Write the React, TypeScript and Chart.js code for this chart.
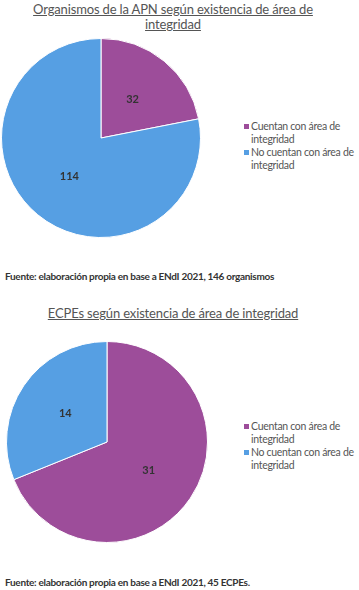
import React, { useEffect, useRef } from "react";
import { Chart, registerables } from "chart.js";

Chart.register(...registerables);

const categories = ["Cuentan con área de integridad", "No cuentan con área de integridad"];
const legendLines = [["Cuentan con área de", "integridad"], ["No cuentan con área de", "integridad"]];
const apnValues = [32, 114];
const ecpeValues = [31, 14];
const colors = ["#9D4D9A", "#569FE3"];
const title1 = ["Organismos de la APN según existencia de área de", "integridad"];
const title2 = ["ECPEs según existencia de área de integridad"];
const source1 = "Fuente: elaboración propia en base a ENdI 2021, 146 organismos";
const source2 = "Fuente: elaboración propia en base a ENdI 2021, 45 ECPEs.";

const FONT = "Lato, 'Noto Sans', sans-serif";

const labelPlugin = {
  id: "sliceLabels",
  afterDatasetsDraw(chart: any) {
    const ctx = chart.ctx;
    const meta = chart.getDatasetMeta(0);
    const data = chart.data.datasets[0].data;
    ctx.save();
    ctx.font = `bold 11px ${FONT}`;
    ctx.fillStyle = "#333333";
    ctx.textAlign = "center";
    ctx.textBaseline = "middle";
    meta.data.forEach((arc: any, i: number) => {
      const p = arc.tooltipPosition();
      ctx.fillText(String(data[i]), p.x, p.y);
    });
    ctx.restore();
  },
};

function Pie({ values, left, top, size }: { values: number[]; left: number; top: number; size: number }) {
  const ref = useRef<HTMLCanvasElement>(null);
  useEffect(() => {
    const chart = new Chart(ref.current!, {
      type: "pie",
      data: {
        labels: categories,
        datasets: [{ data: values, backgroundColor: colors, borderColor: "#ffffff", borderWidth: 1 }],
      },
      options: {
        animation: false,
        responsive: false,
        maintainAspectRatio: false,
        layout: { padding: 0 },
        plugins: { legend: { display: false }, tooltip: { enabled: false }, title: { display: false } },
      },
      plugins: [labelPlugin],
    });
    return () => chart.destroy();
  }, []);
  return (
    <canvas
      ref={ref}
      width={size}
      height={size}
      style={{ position: "absolute", left, top, width: size, height: size }}
    />
  );
}

function Legend({ left, top }: { left: number; top: number }) {
  return (
    <div
      style={{
        position: "absolute",
        left,
        top,
        fontFamily: FONT,
        fontSize: 10.5,
        letterSpacing: -0.3,
        color: "#555",
        lineHeight: "13px",
        whiteSpace: "nowrap",
      }}
    >
      {legendLines.map((lines, i) => (
        <div key={i} style={{ position: "relative", paddingLeft: 7 }}>
          <span style={{ position: "absolute", left: 0, top: 4, width: 5, height: 5, background: colors[i] }} />
          {lines.map((l, j) => (
            <div key={j}>{l}</div>
          ))}
        </div>
      ))}
    </div>
  );
}

const titleStyle: React.CSSProperties = {
  position: "absolute",
  left: 0,
  width: 346,
  textAlign: "center",
  fontFamily: FONT,
  fontSize: 13,
  letterSpacing: -0.15,
  lineHeight: "15px",
  color: "#555",
  textDecoration: "underline",
  whiteSpace: "nowrap",
};

const sourceStyle: React.CSSProperties = {
  position: "absolute",
  left: 5,
  fontFamily: FONT,
  fontSize: 10,
  letterSpacing: -0.3,
  fontWeight: "bold",
  color: "#333",
  whiteSpace: "nowrap",
};

export default function App() {
  return (
    <div style={{ position: "absolute", left: 0, top: 0, width: 359, height: 590, background: "#fff", overflow: "hidden" }}>
      <div style={{ ...titleStyle, top: 2 }}>
        {title1.map((t, i) => (
          <div key={i}>{t}</div>
        ))}
      </div>
      <Pie values={apnValues} left={1} top={38} size={200} />
      <Legend left={244} top={120} />
      <div style={{ ...sourceStyle, top: 270 }}>{source1}</div>
      <div style={{ ...titleStyle, top: 306 }}>
        {title2.map((t, i) => (
          <div key={i}>{t}</div>
        ))}
      </div>
      <Pie values={ecpeValues} left={6} top={341} size={202} />
      <Legend left={244} top={420} />
      <div style={{ ...sourceStyle, top: 576 }}>{source2}</div>
    </div>
  );
}
